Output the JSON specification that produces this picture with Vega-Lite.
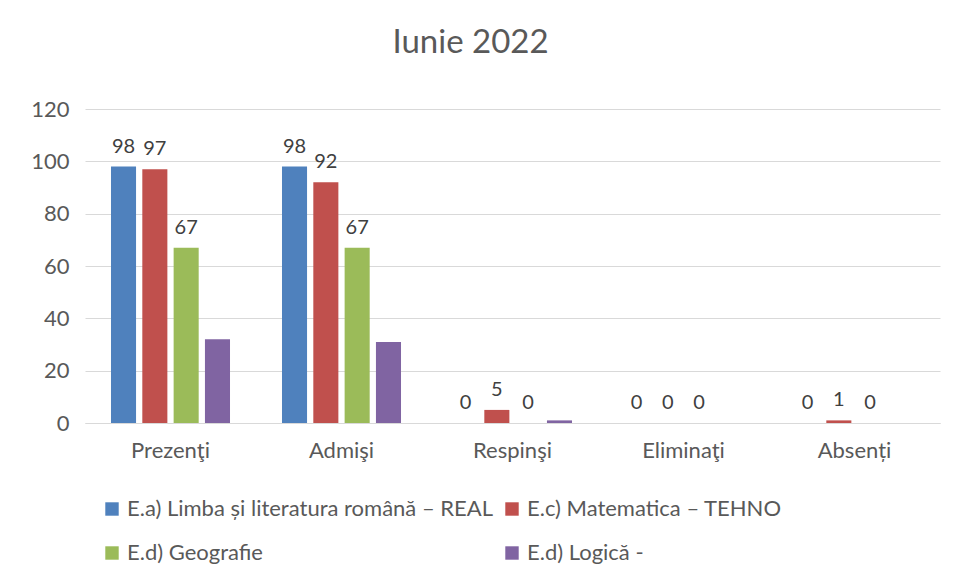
{
  "$schema": "https://vega.github.io/schema/vega-lite/v6.json",
  "width": 855,
  "height": 314,
  "autosize": "none",
  "padding": {"left": 85, "top": 109, "right": 17, "bottom": 157},
  "background": "white",
  "config": {"view": {"stroke": null}},
  "title": {
    "text": "Iunie 2022",
    "fontSize": 33,
    "font": "Lato",
    "fontWeight": "normal",
    "color": "#595959",
    "anchor": "middle",
    "dx": -42,
    "offset": 38
  },
  "data": {
    "values": [
      {"cat": "Prezenţi", "series": "E.a) Limba și literatura română – REAL", "value": 98},
      {"cat": "Prezenţi", "series": "E.c) Matematica – TEHNO", "value": 97},
      {"cat": "Prezenţi", "series": "E.d) Geografie", "value": 67},
      {"cat": "Prezenţi", "series": "E.d) Logică  -", "value": 32},
      {"cat": "Admişi", "series": "E.a) Limba și literatura română – REAL", "value": 98},
      {"cat": "Admişi", "series": "E.c) Matematica – TEHNO", "value": 92},
      {"cat": "Admişi", "series": "E.d) Geografie", "value": 67},
      {"cat": "Admişi", "series": "E.d) Logică  -", "value": 31},
      {"cat": "Respinşi", "series": "E.a) Limba și literatura română – REAL", "value": 0},
      {"cat": "Respinşi", "series": "E.c) Matematica – TEHNO", "value": 5},
      {"cat": "Respinşi", "series": "E.d) Geografie", "value": 0},
      {"cat": "Respinşi", "series": "E.d) Logică  -", "value": 1},
      {"cat": "Eliminaţi", "series": "E.a) Limba și literatura română – REAL", "value": 0},
      {"cat": "Eliminaţi", "series": "E.c) Matematica – TEHNO", "value": 0},
      {"cat": "Eliminaţi", "series": "E.d) Geografie", "value": 0},
      {"cat": "Eliminaţi", "series": "E.d) Logică  -", "value": 0},
      {"cat": "Absenți", "series": "E.a) Limba și literatura română – REAL", "value": 0},
      {"cat": "Absenți", "series": "E.c) Matematica – TEHNO", "value": 1},
      {"cat": "Absenți", "series": "E.d) Geografie", "value": 0},
      {"cat": "Absenți", "series": "E.d) Logică  -", "value": 0}
    ]
  },
  "encoding": {
    "x": {
      "field": "cat",
      "type": "nominal",
      "sort": ["Prezenţi", "Admişi", "Respinşi", "Eliminaţi", "Absenți"],
      "scale": {"paddingInner": 0.304, "paddingOuter": 0.152},
      "axis": {
        "title": null,
        "labelAngle": 0,
        "labelFont": "Lato",
        "labelFontSize": 22,
        "labelColor": "#595959",
        "labelPadding": 17,
        "ticks": false,
        "domainColor": "#d9d9d9",
        "domainWidth": 1
      }
    },
    "xOffset": {
      "field": "series",
      "type": "nominal",
      "sort": ["E.a) Limba și literatura română – REAL", "E.c) Matematica – TEHNO", "E.d) Geografie", "E.d) Logică  -"],
      "scale": {"paddingInner": 0.2, "paddingOuter": 0}
    },
    "y": {
      "field": "value",
      "type": "quantitative",
      "scale": {"domain": [0, 120]},
      "axis": {
        "title": null,
        "values": [0, 20, 40, 60, 80, 100, 120],
        "labelFont": "Lato",
        "labelFontSize": 22,
        "labelColor": "#595959",
        "labelPadding": 16,
        "ticks": false,
        "domain": false,
        "gridColor": "#d9d9d9",
        "gridWidth": 1
      }
    }
  },
  "layer": [
    {
      "mark": {"type": "bar"},
      "encoding": {
        "color": {
          "field": "series",
          "type": "nominal",
          "sort": ["E.a) Limba și literatura română – REAL", "E.c) Matematica – TEHNO", "E.d) Geografie", "E.d) Logică  -"],
          "scale": {
            "domain": ["E.a) Limba și literatura română – REAL", "E.c) Matematica – TEHNO", "E.d) Geografie", "E.d) Logică  -"],
            "range": ["#4F81BD", "#C0504D", "#9BBB59", "#8064A2"]
          },
          "legend": {
            "title": null,
            "orient": "none",
            "direction": "horizontal",
            "legendX": 16,
            "legendY": 389,
            "padding": 0,
            "columns": 2,
            "columnPadding": 7,
            "rowPadding": 22,
            "symbolType": "square",
            "symbolSize": 180,
            "symbolStrokeWidth": 0,
            "labelFont": "Lato",
            "labelFontSize": 22,
            "labelColor": "#595959",
            "labelLimit": 600,
            "labelOffset": 4
          }
        }
      }
    },
    {
      "transform": [{"filter": "datum.series !== 'E.d) Logică  -'"}],
      "mark": {
        "type": "text",
        "font": "Lato",
        "fontSize": 20,
        "color": "#404040",
        "baseline": "alphabetic",
        "dy": -14
      },
      "encoding": {
        "text": {"field": "value", "type": "quantitative"}
      }
    }
  ]
}
